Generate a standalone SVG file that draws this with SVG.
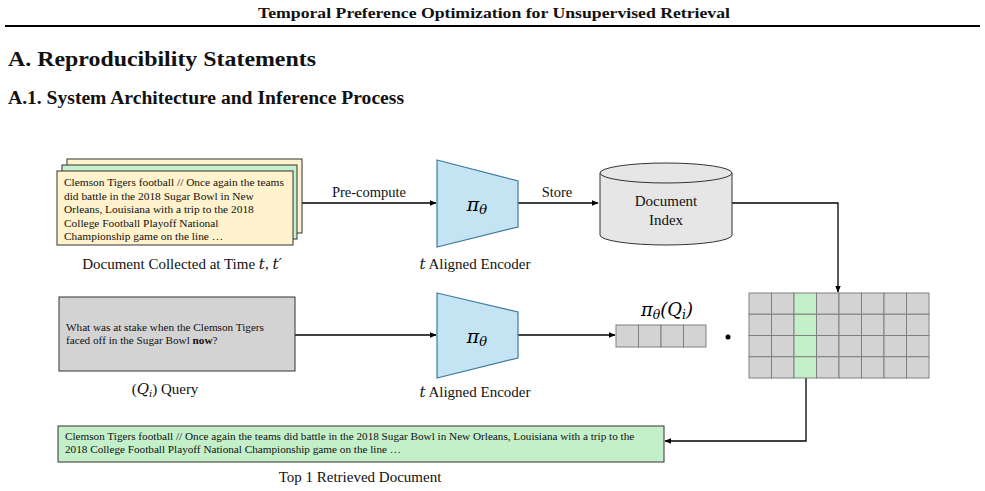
<svg xmlns="http://www.w3.org/2000/svg" width="985" height="491" viewBox="0 0 985 491">
<style>
.t{font-family:"Liberation Serif","Times New Roman",serif;fill:#111}
.b{font-weight:bold}
.lbl{font-size:15px;text-anchor:middle}
.doc{font-size:11.4px}
.m{font-family:"DejaVu Serif","Liberation Serif",serif;font-style:italic}
.enc{fill:#c4e4f4;stroke:#3f7ba0;stroke-width:1.2}
.cell{fill:#d3d3d3;stroke:#808080;stroke-width:1}
.g{fill:#c3efc9}
.ln{fill:none;stroke:#000;stroke-width:1.3}
</style>
<defs>
<marker id="ah" viewBox="0 0 10 10" refX="9" refY="5" markerWidth="7" markerHeight="7" orient="auto" markerUnits="userSpaceOnUse">
<path d="M0,1 L10,5 L0,9 Z" fill="#000"/>
</marker>
</defs>
<rect width="985" height="491" fill="#fff"/>
<g id="header">
<text class="t b" x="494" y="18" font-size="15.5" text-anchor="middle" textLength="472" lengthAdjust="spacingAndGlyphs">Temporal Preference Optimization for Unsupervised Retrieval</text>
<line x1="5" y1="26" x2="980" y2="26" stroke="#000" stroke-width="2"/>
<text class="t b" x="8" y="66" font-size="22" textLength="308" lengthAdjust="spacingAndGlyphs">A. Reproducibility Statements</text>
<text class="t b" x="8" y="104" font-size="18" textLength="396" lengthAdjust="spacingAndGlyphs">A.1. System Architecture and Inference Process</text>
</g>
<g id="connectors">
<path class="ln" d="M293,203 L436,203" marker-end="url(#ah)"/>
<text class="t" x="369" y="197" font-size="14.5" text-anchor="middle">Pre-compute</text>
<path class="ln" d="M518,203 L598,203" marker-end="url(#ah)"/>
<text class="t" x="557" y="197" font-size="14.5" text-anchor="middle">Store</text>
<path class="ln" d="M732,203 L838,203 L838,292" marker-end="url(#ah)"/>
<path class="ln" d="M295,335 L436,335" marker-end="url(#ah)"/>
<path class="ln" d="M518,335 L615,335" marker-end="url(#ah)"/>
<path class="ln" d="M806,378 L806,441 L665,441" marker-end="url(#ah)"/>
</g>
<g id="documents">
<rect x="67" y="159" width="235" height="74" fill="#fff2cc" stroke="#333" stroke-width="1"/>
<rect x="62" y="165" width="235" height="74" fill="#c6efce" stroke="#333" stroke-width="1"/>
<rect x="57" y="171" width="236" height="74" fill="#fff2cc" stroke="#333" stroke-width="1"/>
<text class="t doc" x="64" y="186">Clemson Tigers football // Once again the teams</text>
<text class="t doc" x="64" y="199.5">did battle in the 2018 Sugar Bowl in New</text>
<text class="t doc" x="64" y="213">Orleans, Louisiana with a trip to the 2018</text>
<text class="t doc" x="64" y="226.5">College Football Playoff National</text>
<text class="t doc" x="64" y="240">Championship game on the line …</text>
<text class="t lbl" x="182" y="269">Document Collected at Time <tspan class="m">t</tspan>, <tspan class="m">t′</tspan></text>
</g>
<g id="encoder1">
<polygon class="enc" points="437,160 518,181 518,227 437,247"/>
<text class="m" x="477" y="211" font-size="19" text-anchor="middle">π<tspan font-size="13" dy="3">θ</tspan></text>
<text class="t lbl" x="475" y="269"><tspan class="m">t</tspan> Aligned Encoder</text>
</g>
<g id="index">
<path d="M600,173 L600,235 A66,10 0 0 0 732,235 L732,173" fill="#e6e6e6" stroke="#333" stroke-width="1"/>
<ellipse cx="666" cy="173" rx="66" ry="10" fill="#e6e6e6" stroke="#333" stroke-width="1"/>
<text class="t lbl" x="666" y="206">Document</text>
<text class="t lbl" x="666" y="225">Index</text>
</g>
<g id="query">
<rect x="59" y="297" width="236" height="74" fill="#d3d3d3" stroke="#333" stroke-width="1"/>
<text class="t" x="66" y="331" font-size="11.2">What was at stake when the Clemson Tigers</text>
<text class="t" x="66" y="344" font-size="11.2">faced off in the Sugar Bowl <tspan font-weight="bold">now</tspan>?</text>
<text class="t lbl" x="165" y="394">(<tspan class="m">Q</tspan><tspan class="m" font-size="10" dy="3">i</tspan><tspan dy="-3">) Query</tspan></text>
</g>
<g id="encoder2">
<polygon class="enc" points="437,293 518,312 518,358 437,378"/>
<text class="m" x="477" y="343" font-size="19" text-anchor="middle">π<tspan font-size="13" dy="3">θ</tspan></text>
<text class="t lbl" x="475" y="397"><tspan class="m">t</tspan> Aligned Encoder</text>
</g>
<g id="query-vector">
<rect class="cell" x="616" y="325" width="22.5" height="22"/>
<rect class="cell" x="638.5" y="325" width="22.5" height="22"/>
<rect class="cell" x="661" y="325" width="22.5" height="22"/>
<rect class="cell" x="683.5" y="325" width="22.5" height="22"/>
<text class="m" x="667" y="316" font-size="18" text-anchor="middle">π<tspan font-size="12.5" dy="3">θ</tspan><tspan dy="-3">(Q</tspan><tspan font-size="12.5" dy="3">i</tspan><tspan dy="-3">)</tspan></text>
<circle cx="728" cy="337" r="2.5" fill="#000"/>
</g>
<g id="doc-matrix">
<g>
<rect class="cell" x="749" y="293" width="22.5" height="21.25"/><rect class="cell" x="771.5" y="293" width="22.5" height="21.25"/><rect class="cell g" x="794" y="293" width="22.5" height="21.25"/><rect class="cell" x="816.5" y="293" width="22.5" height="21.25"/><rect class="cell" x="839" y="293" width="22.5" height="21.25"/><rect class="cell" x="861.5" y="293" width="22.5" height="21.25"/><rect class="cell" x="884" y="293" width="22.5" height="21.25"/><rect class="cell" x="906.5" y="293" width="22.5" height="21.25"/>
<rect class="cell" x="749" y="314.25" width="22.5" height="21.25"/><rect class="cell" x="771.5" y="314.25" width="22.5" height="21.25"/><rect class="cell g" x="794" y="314.25" width="22.5" height="21.25"/><rect class="cell" x="816.5" y="314.25" width="22.5" height="21.25"/><rect class="cell" x="839" y="314.25" width="22.5" height="21.25"/><rect class="cell" x="861.5" y="314.25" width="22.5" height="21.25"/><rect class="cell" x="884" y="314.25" width="22.5" height="21.25"/><rect class="cell" x="906.5" y="314.25" width="22.5" height="21.25"/>
<rect class="cell" x="749" y="335.5" width="22.5" height="21.25"/><rect class="cell" x="771.5" y="335.5" width="22.5" height="21.25"/><rect class="cell g" x="794" y="335.5" width="22.5" height="21.25"/><rect class="cell" x="816.5" y="335.5" width="22.5" height="21.25"/><rect class="cell" x="839" y="335.5" width="22.5" height="21.25"/><rect class="cell" x="861.5" y="335.5" width="22.5" height="21.25"/><rect class="cell" x="884" y="335.5" width="22.5" height="21.25"/><rect class="cell" x="906.5" y="335.5" width="22.5" height="21.25"/>
<rect class="cell" x="749" y="356.75" width="22.5" height="21.25"/><rect class="cell" x="771.5" y="356.75" width="22.5" height="21.25"/><rect class="cell g" x="794" y="356.75" width="22.5" height="21.25"/><rect class="cell" x="816.5" y="356.75" width="22.5" height="21.25"/><rect class="cell" x="839" y="356.75" width="22.5" height="21.25"/><rect class="cell" x="861.5" y="356.75" width="22.5" height="21.25"/><rect class="cell" x="884" y="356.75" width="22.5" height="21.25"/><rect class="cell" x="906.5" y="356.75" width="22.5" height="21.25"/>
</g>
</g>
<g id="retrieved">
<rect x="58" y="426" width="606" height="36" fill="#c3efc9" stroke="#333" stroke-width="1"/>
<text class="t" x="65" y="440" font-size="11.2">Clemson Tigers football // Once again the teams did battle in the 2018 Sugar Bowl in New Orleans, Louisiana with a trip to the</text>
<text class="t" x="65" y="453" font-size="11.2">2018 College Football Playoff National Championship game on the line …</text>
<text class="t lbl" x="360" y="482">Top 1 Retrieved Document</text>
</g>
</svg>
